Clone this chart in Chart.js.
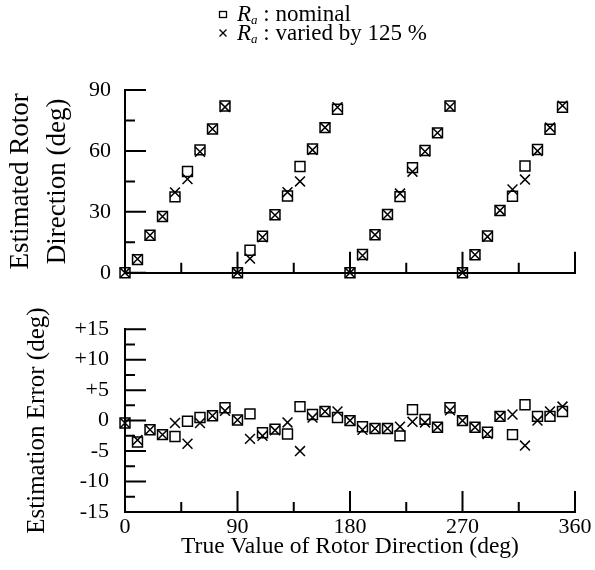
<!DOCTYPE html>
<html>
<head>
<meta charset="utf-8">
<script src="https://cdn.jsdelivr.net/npm/chart.js@4.4.1/dist/chart.umd.min.js"></script>
<style>
  body { margin: 0; background: #fff; width: 595px; height: 570px; position: relative; overflow: hidden; }
  canvas { position: absolute; left: 0; }
  #cTop { top: 0; }
  #cErr { top: 300px; }
  .leg { position: absolute; font-family: 'Liberation Serif', 'Times New Roman', serif; font-size: 23px; color: #000; white-space: nowrap; }
  .leg i { font-style: italic; }
  .leg sub { font-size: 13px; font-style: italic; vertical-align: -3px; }
  .mk { position: absolute; }
</style>
</head>
<body>
<canvas id="cTop" width="595" height="300"></canvas>
<canvas id="cErr" width="595" height="270"></canvas>

<svg class="mk" style="left:214px;top:5px" width="18" height="36">
  <rect x="5.5" y="6.5" width="7" height="6" fill="none" stroke="#000" stroke-width="1.3"/>
  <path d="M5.5 24.5 L12.5 31.5 M12.5 24.5 L5.5 31.5" stroke="#000" stroke-width="1.3"/>
</svg>
<div class="leg" style="left:237px;top:1px"><i>R</i><sub>a</sub> : nominal</div>
<div class="leg" style="left:237px;top:20px"><i>R</i><sub>a</sub> : varied by 125 %</div>

<script>
// True rotor direction (deg)
const trueDeg = [0, 10, 20, 30, 40, 50, 60, 70, 80, 90, 100, 110, 120, 130, 140, 150, 160, 170,
                 180, 190, 200, 210, 220, 230, 240, 250, 260, 270, 280, 290, 300, 310, 320, 330, 340, 350];

// Estimated direction (deg), Ra nominal / Ra varied by 125 %
const nominalEst = [0, 6.5, 18.5, 27.7, 37.4, 49.9, 60.5, 70.8, 82.1,
                    0, 11.1, 18.0, 28.6, 37.8, 52.3, 61.0, 71.5, 80.5,
                    0, 9.0, 18.7, 28.7, 37.5, 51.8, 60.2, 68.9, 82.1,
                    0, 8.9, 18.1, 30.7, 37.7, 52.6, 60.7, 70.7, 81.5];
const variedEst = [0, 6.8, 18.5, 27.7, 39.6, 46.2, 59.6, 70.8, 81.6,
                   0, 7.0, 17.5, 28.4, 39.7, 45.0, 60.5, 71.5, 81.5,
                   0, 8.5, 18.7, 28.7, 39.0, 49.8, 59.7, 68.9, 81.7,
                   0, 8.9, 17.8, 30.7, 41.0, 45.9, 60.0, 71.5, 82.3];

// Estimation error (deg)
const nominalErr = [-0.4, -3.5, -1.5, -2.3, -2.6, -0.1, 0.5, 0.8, 2.1,
                    0.1, 1.1, -2.0, -1.4, -2.2, 2.3, 1.0, 1.5, 0.5,
                    0, -1.0, -1.3, -1.3, -2.5, 1.8, 0.2, -1.1, 2.1,
                    0, -1.1, -1.9, 0.7, -2.3, 2.6, 0.7, 0.7, 1.5];
const variedErr = [-0.4, -3.2, -1.5, -2.3, -0.4, -3.8, -0.4, 0.8, 1.6,
                   0.1, -3.0, -2.5, -1.6, -0.3, -5.0, 0.5, 1.5, 1.5,
                   0, -1.5, -1.3, -1.3, -1.0, -0.2, -0.3, -1.1, 1.7,
                   0, -1.1, -2.2, 0.7, 1.0, -4.1, 0, 1.5, 2.3];

// tick positions
const xMajor = [90, 180, 270, 360];
const xMinor = [45, 135, 225, 315];
const estMajor = [0, 30, 60, 90];
const estMinor = [15, 45, 75];
const errMajor = [-15, -10, -5, 0, 5, 10, 15];
const errMinor = [-12.5, -7.5, -2.5, 2.5, 7.5, 12.5];

const serif = "'Liberation Serif', 'Times New Roman', serif";

// ticks drawn inward from the axes
const inwardTicks = {
    id: 'inwardTicks',
    afterDraw(chart, args, opts) {
        const { ctx, chartArea } = chart;
        const x = chart.scales.x, y = chart.scales.y;
        ctx.save();
        ctx.strokeStyle = '#000';
        ctx.lineWidth = 2;
        ctx.beginPath();
        opts.xMajor.forEach(v => { const p = x.getPixelForValue(v); ctx.moveTo(p, chartArea.bottom); ctx.lineTo(p, chartArea.bottom - 21); });
        opts.xMinor.forEach(v => { const p = x.getPixelForValue(v); ctx.moveTo(p, chartArea.bottom); ctx.lineTo(p, chartArea.bottom - 10); });
        opts.yMajor.forEach(v => { const p = y.getPixelForValue(v); ctx.moveTo(chartArea.left, p); ctx.lineTo(chartArea.left + 21, p); });
        opts.yMinor.forEach(v => { const p = y.getPixelForValue(v); ctx.moveTo(chartArea.left, p); ctx.lineTo(chartArea.left + 10, p); });
        ctx.stroke();
        ctx.restore();
    }
};

function pts(ys) {
    return trueDeg.map((x, i) => ({ x: x, y: ys[i] }));
}

function series(ys, style) {
    return {
        data: pts(ys),
        showLine: false,
        pointStyle: style,
        pointRadius: 7,
        pointHoverRadius: 7,
        pointBorderWidth: 1.5,
        borderColor: '#000',
        backgroundColor: 'rgba(0,0,0,0)',
        clip: false
    };
}

function axisX(showLabels, height) {
    return {
        type: 'linear', min: 0, max: 360,
        afterFit: s => { s.height = height; },
        grid: { display: true, drawOnChartArea: false, drawTicks: false },
        border: { display: true, color: '#000', width: 2 },
        ticks: {
            display: showLabels, stepSize: 90, padding: 2,
            color: '#000', font: { family: serif, size: 22 }
        },
        title: {
            display: showLabels,
            text: 'True Value of Rotor Direction (deg)',
            color: '#000',
            font: { family: serif, size: 23.5, lineHeight: 1.15 },
            padding: { top: 0, bottom: 10 }
        }
    };
}

// top chart: estimated direction
new Chart(document.getElementById('cTop').getContext('2d'), {
    type: 'scatter',
    data: { datasets: [series(nominalEst, 'rect'), series(variedEst, 'crossRot')] },
    options: {
        responsive: false,
        animation: false,
        layout: { padding: { top: 90, right: 20, bottom: 0, left: 0 } },
        plugins: {
            legend: { display: false },
            tooltip: { enabled: false },
            inwardTicks: { xMajor: xMajor, xMinor: xMinor, yMajor: estMajor, yMinor: estMinor }
        },
        scales: {
            x: axisX(false, 21),
            y: {
                type: 'linear', min: 0, max: 90,
                afterFit: s => { s.width = 125; },
                grid: { display: true, drawOnChartArea: false, drawTicks: false },
                border: { display: true, color: '#000', width: 2 },
                ticks: { stepSize: 30, padding: 14, color: '#000', font: { family: serif, size: 22 } },
                title: {
                    display: true,
                    text: ['Estimated Rotor', 'Direction (deg)'],
                    color: '#000',
                    font: { family: serif, size: 27, lineHeight: 1.37 },
                    padding: { top: 2, bottom: 0 }
                }
            }
        }
    },
    plugins: [inwardTicks]
});

// bottom chart: estimation error
new Chart(document.getElementById('cErr').getContext('2d'), {
    type: 'scatter',
    data: { datasets: [series(nominalErr, 'rect'), series(variedErr, 'crossRot')] },
    options: {
        responsive: false,
        animation: false,
        layout: { padding: { top: 24, right: 20, bottom: 0, left: 0 } },
        plugins: {
            legend: { display: false },
            tooltip: { enabled: false },
            inwardTicks: { xMajor: xMajor, xMinor: xMinor, yMajor: errMajor, yMinor: errMinor }
        },
        scales: {
            x: axisX(true, 58),
            y: {
                type: 'linear', min: -15, max: 15,
                afterFit: s => { s.width = 125; },
                grid: { display: true, drawOnChartArea: false, drawTicks: false },
                border: { display: true, color: '#000', width: 2 },
                ticks: {
                    stepSize: 5, padding: 16, color: '#000', font: { family: serif, size: 22 },
                    callback: v => (v > 0 ? '+' + v : String(v))
                },
                title: {
                    display: true,
                    text: 'Estimation Error (deg)',
                    color: '#000',
                    font: { family: serif, size: 25, lineHeight: 1.2 },
                    padding: { top: 22, bottom: 0 }
                }
            }
        }
    },
    plugins: [inwardTicks]
});
</script>
</body>
</html>
